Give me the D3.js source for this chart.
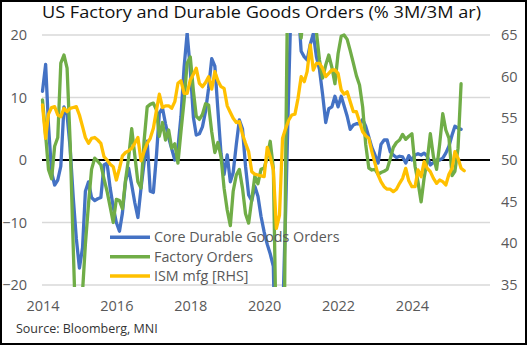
<!DOCTYPE html>
<html><head><meta charset="utf-8">
<script src="https://cdn.jsdelivr.net/npm/d3@7"></script>
<style>body{margin:0;background:#fff} svg{display:block}</style>
</head><body><svg id="c" width="527" height="345"></svg>
<script>
// Monthly data, first point = Jan 2014
const startYear = 2014;
const coreDurable = [
 11, 15.3, 5.6, -2.0, -4.0, -3.2, -1.0, 8.5, 7.2, 2.0,
 -6.0, -12.5, -17.3, -14.0, -5.0, -3.5, -6.0, -6.5, -6.2, -6.0,
 -0.8, -0.5, -4.5, -7.5, -10.0, -11.4, -8.5, -3.4, -1.3, -4.0,
 -6.8, -9.2, -4.5, -0.5, 3.0, -5.0, -5.2, 0.8, 7.5, 8.3,
 5.8, 3.6, 1.8, 0.0, 2.0, 7.0, 14.9, 20.3, 14.5, 6.8,
 4.0, 4.2, 5.3, 7.8, 11.5, 16.2, 15.0, 8.0, 1.0, -2.3,
 0.8, -3.5, -2.0, 2.5, 6.4, 5.0, -1.0, -5.6, -6.5, -4.2,
 -5.8, -9.0, -11.5, -13.5, -15.0, -17.0, -40, -38, -26, -8,
 12, 30, 38, 25, 17.4, 16.5, 16.0, 18.5, 20.2, 16.5,
 14.5, 10.5, 6.0, 8.2, 8.5, 10.2, 8.5, 10.2, 8.7, 7.0,
 4.9, 5.6, 5.8, 5.8, 6.5, 5.4, 3.7, 2.0, 0.8, -0.5,
 2.5, 3.2, 3.2, 1.3, 0.8, 0.4, 0.6, 0.5, -0.5, 0.7,
 0.0, 0.8, 1.0, 0.8, 1.1, 0.6, -0.8, -0.4, 0.0, 0.0,
 0.3, 1.1, 2.2, 4.0, 5.4, 5.1, 4.9
];
const factoryOrders = [
 9.6, 4.0, -1.5, -3.0, 2.2, 3.6, 15.5, 16.8, 14.7, 3.0,
 -14, -30, -21.5, -21, -13.5, -7, -1.5, 0.3, -0.2, -0.8,
 -3.0, -5.0, -7.5, -10.0, -6.3, -6.5, -7.8, -3.2, 0.3, 5.0,
 0.8, -3.5, -4.5, 3.0, 8.5, 8.9, 9.1, 8.0, 3.8, 6.0,
 3.2, 4.8, 1.9, 2.6, -0.5, 4.6, 9.5, 15.5, 16.5, 11.0,
 7.0, 6.5, 7.3, 9.0, 8.8, 4.5, 1.2, 2.8, 0.5, -4.5,
 -8.0, -10.5, -5.0, -2.4, -1.5, -4.5, -8.6, -10.1, -6.3, -2.6,
 -3.8, -1.5, -1.3, 0.5, 3.0, -1.3, -30, -50, -65, 0,
 45, 40, 30, 24, 19.5, 25, 30, 28, 24, 20.5,
 16, 13.1, 15.2, 16.8, 14.8, 12.2, 17.0, 19.8, 20.0, 19.3,
 17.5, 15.5, 13.5, 12.0, 8.5, 2.5, -1.3, -1.6, -1.5, -2.3,
 -2.0, -1.8, -1.5, 0.2, 2.0, 2.8, 3.2, 4.1, 3.3, 3.8,
 4.2, -1.0, -3.5, -6.7, -2.8, 0.0, 4.2, 0.5, -1.5, 2.5,
 7.4, 4.8, 3.5, -2.5, -1.8, 1.9, 12.2
];
const ismMfg = [
 56.6, 52.6, 55.5, 56.3, 56.4, 55.4, 55.2, 56.2, 55.8, 56.2,
 56.3, 56.4, 55.4, 54.0, 52.7, 52.0, 52.6, 52.7, 52.4, 52.0,
 50.4, 50.0, 49.5, 49.2, 47.6, 49.0, 50.5, 50.9, 51.1, 51.4,
 52.0, 52.7, 49.9, 51.0, 52.0, 52.6, 53.8, 56.0, 57.9, 56.3,
 56.5, 56.5, 56.2, 57.0, 59.2, 59.5, 58.0, 58.0, 59.6, 60.3,
 61.0, 59.2, 58.8, 59.3, 60.0, 58.5, 60.6, 59.5, 58.8, 58.6,
 56.5, 55.7, 55.0, 54.5, 54.6, 53.1, 52.0, 51.0, 48.6, 48.3,
 48.2, 48.1, 48.0, 51.5, 50.4, 48.8, 41.8, 43.4, 52.6, 53.8,
 54.8, 55.4, 55.5, 57.4, 60.0, 59.4, 60.6, 63.8, 60.8, 61.6,
 61.6, 61.0, 60.0, 60.4, 60.8, 60.8, 60.4, 58.4, 57.9, 58.2,
 57.0, 55.8, 55.8, 54.6, 53.4, 52.9, 52.6, 51.0, 49.6, 48.2,
 47.4, 46.8, 46.5, 46.5, 46.2, 46.5, 47.2, 47.8, 49.0, 47.5,
 46.8, 46.8, 48.8, 48.0, 49.8, 49.0, 48.6, 47.8, 47.2, 47.6,
 47.4, 47.0, 48.3, 49.0, 51.0, 50.2, 49.0, 48.7
];
const leftTicks = [-20, -10, 0, 10, 20];
const rightTicks = [35, 40, 45, 50, 55, 60, 65];
const yearTicks = [2014, 2016, 2018, 2020, 2022, 2024];
const seriesNames = ["Core Durable Goods Orders", "Factory Orders", "ISM mfg [RHS]"];
const seriesColors = ["#4472C4", "#70AD47", "#FFC000"];
const titleText = "US Factory and Durable Goods Orders (% 3M/3M ar)";
const sourceText = "Source: Bloomberg, MNI";

const monthDate = i => new Date(startYear, i, 1);
const L = 42, R = 490, T = 35, B = 285;
const svg = d3.select("#c");
const FONT = "'Open Sans', sans-serif";

svg.append("rect").attr("x", 1).attr("y", 1).attr("width", 525).attr("height", 343)
  .attr("fill", "#fff").attr("stroke", "#000").attr("stroke-width", 2);

const x = d3.scaleTime().domain([new Date(2014, 0, 1), new Date(2026, 1, 1)]).range([42.5, 489]);
const yL = d3.scaleLinear().domain([-20, 20]).range([B, T]);
const yR = d3.scaleLinear().domain([35, 65]).range([B, T]);

// gridlines
svg.append("g").selectAll("line").data(leftTicks.filter(d => d !== 0)).join("line")
  .attr("x1", L).attr("x2", R).attr("y1", d => yL(d)).attr("y2", d => yL(d))
  .attr("stroke", "#d9d9d9").attr("stroke-width", 1.5);
svg.append("line").attr("x1", L).attr("x2", R).attr("y1", yL(0)).attr("y2", yL(0))
  .attr("stroke", "#000").attr("stroke-width", 2);

// axes
const styleAxis = g => {
  g.select(".domain").remove();
  g.selectAll("text").attr("font-family", FONT).attr("font-size", 14.5).attr("fill", "#595959");
};
svg.append("g").attr("transform", `translate(${L},0)`)
  .call(d3.axisLeft(yL).tickValues(leftTicks).tickSize(0).tickPadding(15)).call(styleAxis);
svg.append("g").attr("transform", `translate(${R},0)`)
  .call(d3.axisRight(yR).tickValues(rightTicks).tickSize(0).tickPadding(11)).call(styleAxis);
svg.append("g").attr("transform", `translate(0,${B})`)
  .call(d3.axisBottom(x).tickValues(yearTicks.map(y => new Date(y, 0, 1)))
    .tickFormat(d3.timeFormat("%Y")).tickSize(0).tickPadding(16)).call(styleAxis);

// clip
svg.append("clipPath").attr("id", "plot").append("rect")
  .attr("x", L - 5).attr("y", T - 2).attr("width", R - L + 10).attr("height", B - T + 4);

const plot = svg.append("g").attr("clip-path", "url(#plot)");
const lineL = d3.line().x((d, i) => x(monthDate(i))).y(d => yL(d));
const lineR = d3.line().x((d, i) => x(monthDate(i))).y(d => yR(d));
[[coreDurable, lineL], [factoryOrders, lineL], [ismMfg, lineR]].forEach(([data, gen], k) => {
  plot.append("path").datum(data).attr("d", gen).attr("fill", "none")
    .attr("stroke", seriesColors[k]).attr("stroke-width", 3.3)
    .attr("stroke-linejoin", "round").attr("stroke-linecap", "round");
});

// legend
const lg = svg.append("g");
seriesNames.forEach((n, i) => {
  const yy = 237.3 + i * 19.4;
  lg.append("line").attr("x1", 110).attr("x2", 150).attr("y1", yy).attr("y2", yy)
    .attr("stroke", seriesColors[i]).attr("stroke-width", 3.5);
  lg.append("text").attr("x", 154).attr("y", yy).attr("dy", "0.35em")
    .attr("font-family", FONT).attr("font-size", 14.3).attr("fill", "#595959").text(n);
});

// title & source
svg.append("text").attr("x", 261.5).attr("y", 17.5).attr("text-anchor", "middle")
  .attr("font-family", FONT).attr("font-size", 17).attr("fill", "#111")
  .attr("textLength", 439).attr("lengthAdjust", "spacingAndGlyphs").text(titleText);
svg.append("text").attr("x", 16).attr("y", 333)
  .attr("font-family", FONT).attr("font-size", 12.5).attr("fill", "#333").text(sourceText);
</script></body></html>
